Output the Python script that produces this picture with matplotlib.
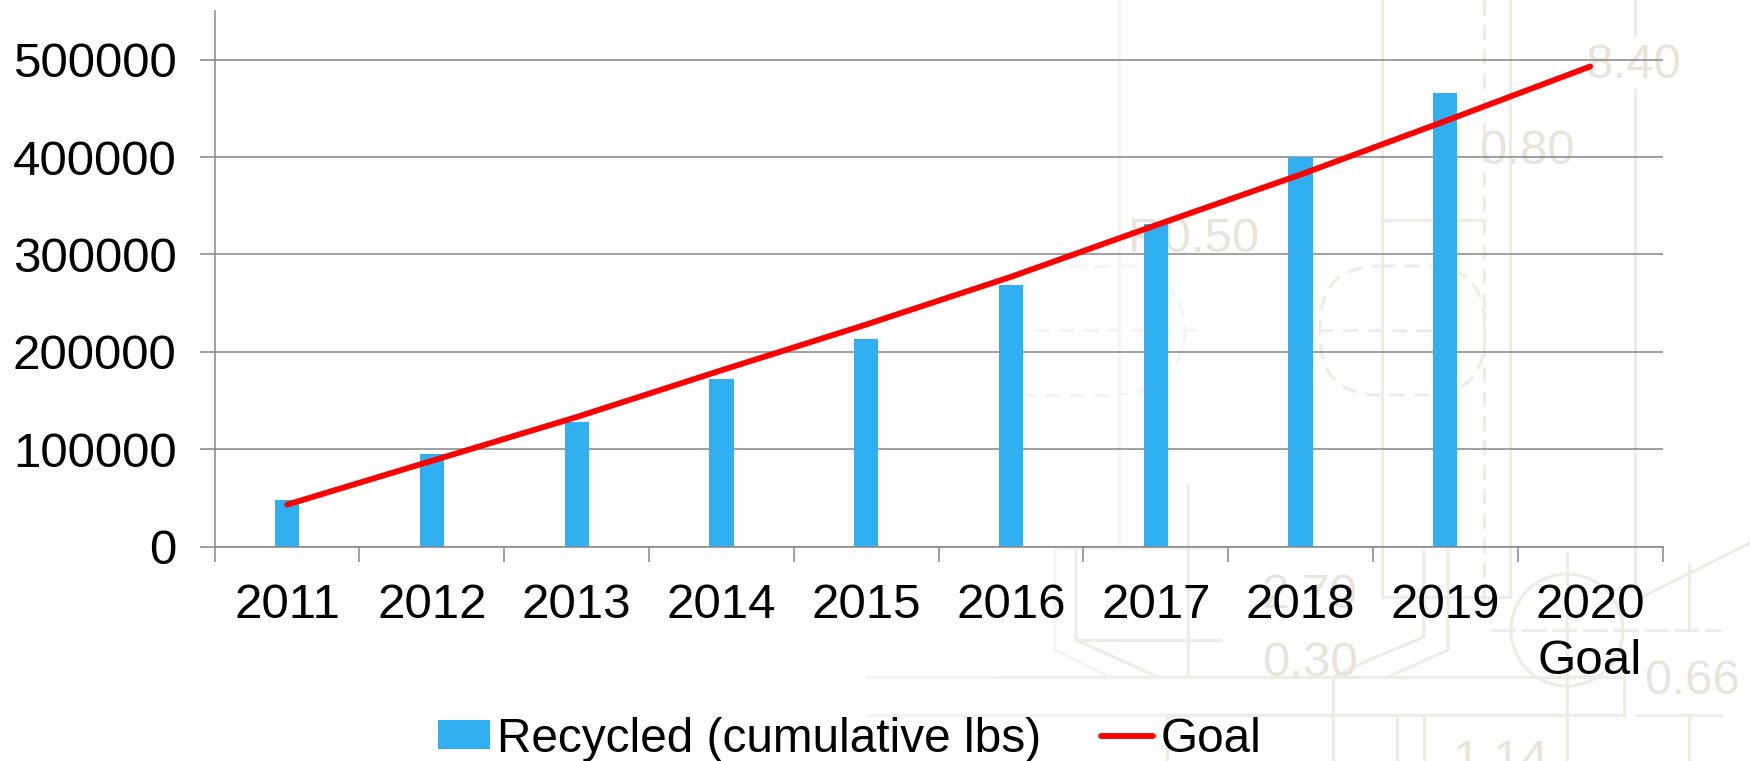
import matplotlib
matplotlib.use("Agg")
import matplotlib.pyplot as plt
from matplotlib.lines import Line2D
from matplotlib.patches import FancyBboxPatch, Circle, Arc
from matplotlib.transforms import Affine2D

plt.rcParams['font.family'] = ['Liberation Sans', 'DejaVu Sans']

categories = ['2011', '2012', '2013', '2014', '2015', '2016', '2017', '2018', '2019', '2020\nGoal']
recycled = [48000, 95500, 128000, 172000, 213000, 269000, 331000, 400500, 466000, 0]
goal = [43000, 88000, 133000, 181000, 228000, 277000, 330000, 382000, 437000, 493000]
yticks = [0, 100000, 200000, 300000, 400000, 500000]

W, H = 1750, 761
fig = plt.figure(figsize=(W / 100, H / 100), dpi=100, facecolor='white')

# faint technical-drawing watermark, in pixel coordinates of the image
px = Affine2D().scale(1 / W, -1 / H).translate(0, 1) + fig.transFigure
wm = '#efece6'
wm2 = '#f6f4f1'
dash = (0, (5, 3))
wm_lines = [
    ([1119, 1119], [0, 548], '-', wm2), ([1382, 1382], [0, 597], '-', wm), ([1510, 1510], [0, 597], '-', wm),
    ([1382, 1510], [597, 597], '-', wm), ([1484, 1484], [0, 600], dash, wm),
    ([1635, 1635], [0, 35], '-', wm), ([1635, 1635], [90, 590], '-', wm),
    ([1491, 1721], [630, 630], (0, (8, 2)), wm),
    ([867, 1624], [677, 677], '-', wm2), ([867, 1624], [715, 715], '-', wm2),
    ([1000, 1624], [677, 677], '-', wm), ([1167, 1624], [715, 715], '-', wm),
    ([1624, 1624], [677, 715], '-', wm), ([1636, 1721], [715, 715], '-', wm),
    ([1333, 1333], [677, 761], '-', wm), ([1167, 1167], [715, 761], '-', wm),
    ([1567, 1567], [553, 761], '-', wm), ([1397, 1397], [715, 761], '-', wm), ([1424, 1424], [715, 761], '-', wm),
    ([1424, 1424, 1376, 1333], [550, 637, 657, 677], '-', wm),
    ([1448, 1448, 1388], [550, 650, 677], '-', wm),
    ([1055, 1055, 1109], [550, 650, 677], '-', wm2),
    ([1076, 1076, 1158], [550, 640, 677], '-', wm),
    ([1076, 1220], [640, 640], '-', wm), ([1055, 1225], [548, 548], '-', wm2),
    ([1188, 1188], [485, 677], '-', wm),
    ([1642, 1750], [597, 543], '-', wm), ([1689, 1689], [565, 630], '-', wm), ([1689, 1689], [715, 761], '-', wm),
    ([1382, 1484], [220, 220], '-', wm),
    ([1020, 1120], [266, 266], dash, wm2), ([1020, 1120], [395, 395], dash, wm2),
    ([1010, 1195], [330, 330], dash, wm2),
    ([1318, 1465], [330, 330], dash, wm),
]
for xs, ys, ls, c in wm_lines:
    fig.add_artist(Line2D(xs, ys, color=c, lw=2.2, ls=ls, transform=px, zorder=-5))
fig.add_artist(Arc((1120, 330), 130, 129, theta1=-90, theta2=90, ec=wm2, lw=2.2, ls=dash, transform=px, zorder=-5))
fig.add_artist(FancyBboxPatch((1320, 266), 165, 129, boxstyle='round,pad=0,rounding_size=60',
                              fc='none', ec=wm, lw=2.2, ls=dash, transform=px, zorder=-5))
fig.add_artist(Circle((1567, 630), 56, fc='none', ec=wm, lw=2.2, transform=px, zorder=-5))
for s, x, y in [('8.40', 1586, 66), ('0.80', 1479, 151), ('R0.50', 1128, 240), ('0.66', 1644, 682),
                ('0.30', 1262, 663), ('2.70', 1262, 595), ('1.14', 1452, 762)]:
    fig.text(x, y, s, color='#e8e4dc', fontsize=35.5, ha='left', va='center', transform=px, zorder=-5)

ax = fig.add_axes([214.7 / W, 1 - 546.5 / H, (1662.5 - 214.7) / W, (546.5 - 11) / H])
ax.patch.set_alpha(0)
ax.set_axisbelow(True)

x = list(range(len(categories)))
line_color = '#868686'
bars = ax.bar(x, recycled, width=0.167, color='#30b0f0', label='Recycled (cumulative lbs)', zorder=2)
goal_line, = ax.plot(x, goal, color='#ff0000', lw=4.2, solid_capstyle='round', label='Goal', zorder=3)

ax.set_xlim(-0.5, 9.5)
ax.set_ylim(0, 550000)
ax.set_yticks(yticks)
ax.set_yticklabels([str(v) for v in yticks])
ax.set_xticks(x)
ax.set_xticklabels(categories, linespacing=1.32)
ax.set_xticks([i - 0.5 for i in range(11)], minor=True)
ax.tick_params(axis='x', which='major', length=0, pad=26, labelsize=35.5)
ax.tick_params(axis='x', which='minor', length=10.5, width=1.1, color=line_color)
ax.tick_params(axis='y', length=10.5, width=1.1, color=line_color, pad=17, labelsize=35.5)
ax.grid(axis='y', color=line_color, lw=1.1)
for s in ('top', 'right'):
    ax.spines[s].set_visible(False)
for s in ('left', 'bottom'):
    ax.spines[s].set_color(line_color)
    ax.spines[s].set_linewidth(1.1)

fig.legend(handles=[bars, goal_line], loc='center left', bbox_to_anchor=(438 / W, 1 - 739 / H),
           bbox_transform=fig.transFigure, ncol=2, frameon=False, fontsize=34.4, handlelength=1.09,
           handleheight=0.54, handletextpad=0.15, columnspacing=1.25, borderpad=0, borderaxespad=0)

fig.savefig('out.png', dpi=100)
